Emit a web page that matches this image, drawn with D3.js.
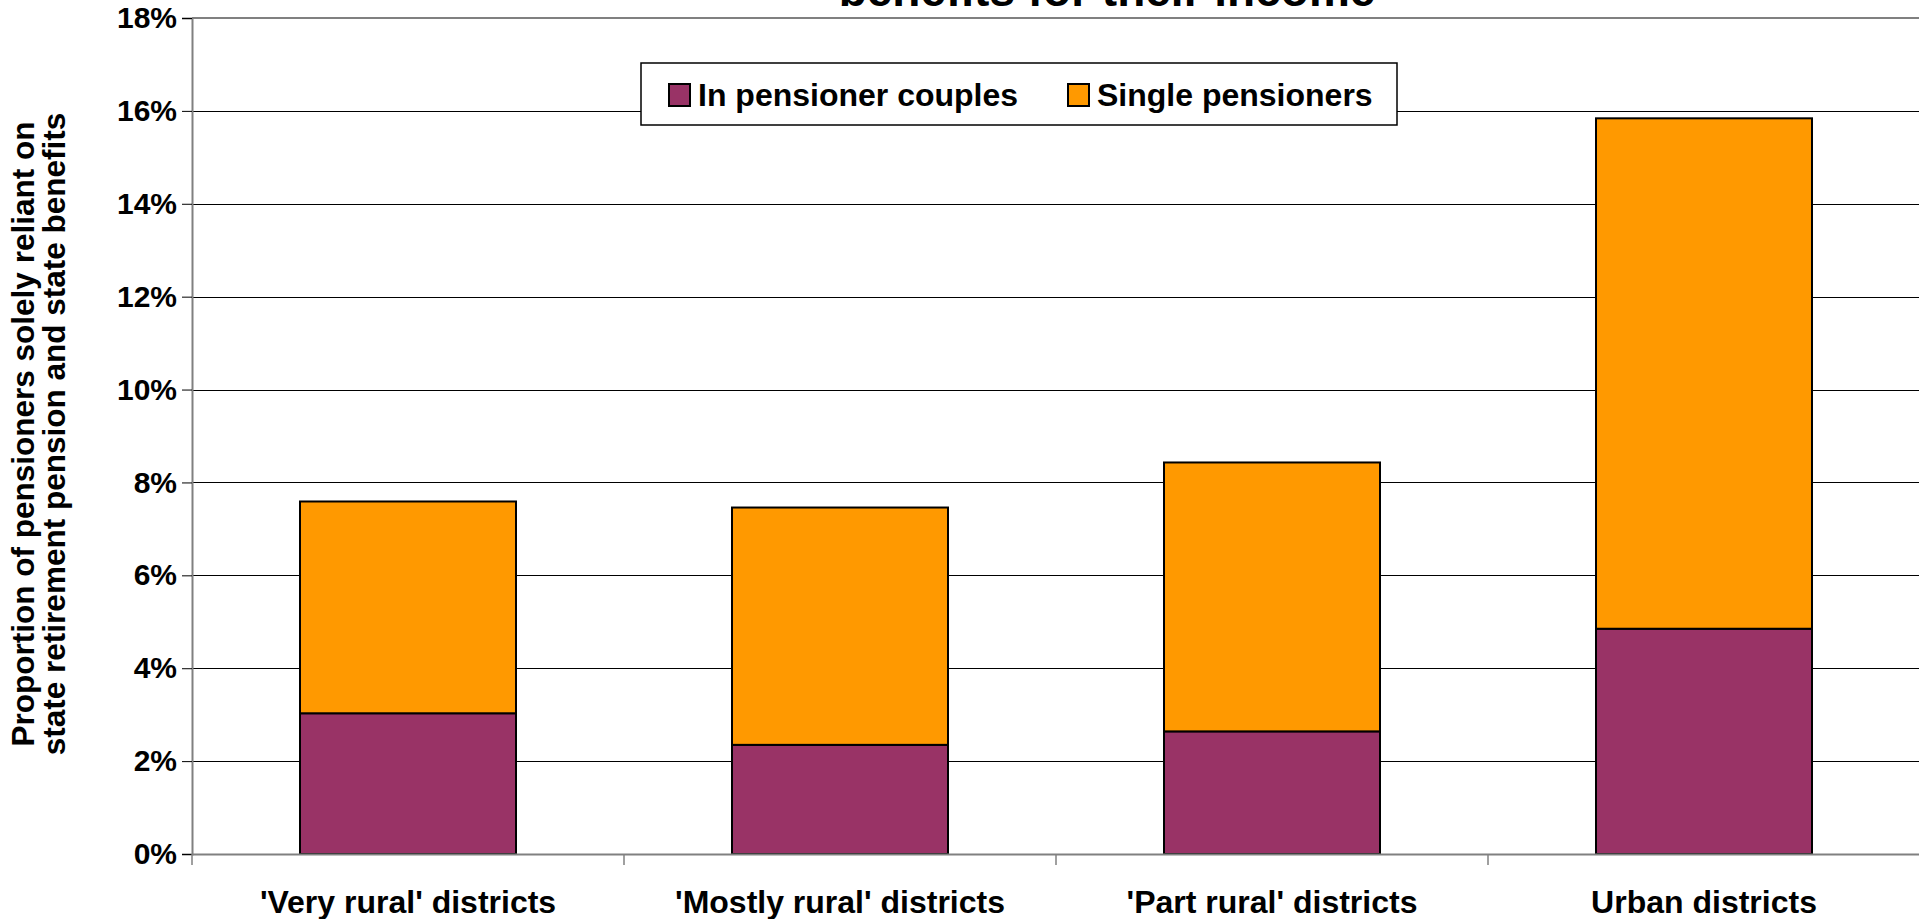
<!DOCTYPE html>
<html>
<head>
<meta charset="utf-8">
<script src="https://cdn.jsdelivr.net/npm/d3@7"></script>
<style>
  html, body { margin: 0; padding: 0; background: #fff; overflow: hidden; }
  text { font-family: Arial, "Liberation Sans", sans-serif; font-weight: bold; fill: #000; }
</style>
</head>
<body>
<div id="chart"></div>
<script>
// data (percent)
var categories = ["'Very rural' districts", "'Mostly rural' districts", "'Part rural' districts", "Urban districts"];
var couples = [3.03, 2.35, 2.64, 4.85];
var singles = [4.56, 5.11, 5.79, 10.99];
var seriesNames = ["In pensioner couples", "Single pensioners"];
var seriesColors = ["#993366", "#FF9900"];
var yTicks = [0, 2, 4, 6, 8, 10, 12, 14, 16, 18];

(function () {
  var width = 1919, height = 919;
  var plot = { left: 192, right: 1920, top: 18, bottom: 854 };
  var fontFamily = 'Arial, "Liberation Sans", sans-serif';

  var svg = d3.select('#chart').append('svg')
    .attr('width', width).attr('height', height);

  var x = d3.scaleBand().domain(categories).range([plot.left, plot.right])
    .paddingInner(0.5).paddingOuter(0.25);
  var y = d3.scaleLinear().domain([0, 18]).range([plot.bottom, plot.top]);

  // gridlines
  svg.append('g').selectAll('line')
    .data(yTicks.filter(d => d > 0 && d < 18))
    .enter().append('line')
    .attr('x1', plot.left).attr('x2', plot.right)
    .attr('y1', d => Math.round(y(d)) + 0.5).attr('y2', d => Math.round(y(d)) + 0.5)
    .attr('stroke', '#000').attr('stroke-width', 1);

  // top border of plot
  svg.append('line')
    .attr('x1', plot.left).attr('x2', plot.right)
    .attr('y1', y(18)).attr('y2', y(18))
    .attr('stroke', '#808080').attr('stroke-width', 2);

  // stacked bars
  var rows = categories.map((c, i) => ({ cat: c, couples: couples[i], singles: singles[i] }));
  var stacked = d3.stack().keys(['couples', 'singles'])(rows);

  svg.append('g').selectAll('g')
    .data(stacked)
    .enter().append('g')
    .attr('fill', (d, i) => seriesColors[i])
    .selectAll('rect')
    .data(d => d)
    .enter().append('rect')
    .attr('x', d => x(d.data.cat))
    .attr('width', x.bandwidth())
    .attr('y', d => y(d[1]))
    .attr('height', d => y(d[0]) - y(d[1]))
    .attr('stroke', '#000').attr('stroke-width', 2);

  // y axis
  var yAxis = d3.axisLeft(y).tickValues(yTicks).tickSize(10).tickPadding(5)
    .tickFormat(d => d + '%');
  var gy = svg.append('g').attr('transform', 'translate(' + plot.left + ',0)').call(yAxis);
  gy.select('.domain').attr('stroke', '#808080').attr('stroke-width', 2);
  gy.selectAll('.tick line').attr('stroke', '#000');
  gy.selectAll('.tick text')
    .style('font-size', '30px').style('font-family', fontFamily).style('font-weight', 'bold');

  // x axis
  var xAxis = d3.axisBottom(x).tickSize(0).tickPadding(36);
  var gx = svg.append('g').attr('transform', 'translate(0,' + plot.bottom + ')').call(xAxis);
  gx.select('.domain').attr('stroke', '#808080').attr('stroke-width', 2);
  gx.selectAll('.tick text')
    .style('font-size', '32px').style('font-family', fontFamily).style('font-weight', 'bold');

  // category separators
  var step = x.step();
  svg.append('g').selectAll('line')
    .data(d3.range(categories.length + 1))
    .enter().append('line')
    .attr('x1', i => plot.left + i * step).attr('x2', i => plot.left + i * step)
    .attr('y1', plot.bottom).attr('y2', plot.bottom + 11)
    .attr('stroke', '#808080').attr('stroke-width', 1.5);

  // y axis title
  var yTitle = svg.append('text')
    .attr('transform', 'translate(0,434) rotate(-90)')
    .attr('text-anchor', 'middle')
    .style('font-size', '31.5px');
  yTitle.append('tspan').attr('x', 0).attr('y', 34).text('Proportion of pensioners solely reliant on');
  yTitle.append('tspan').attr('x', 0).attr('y', 65).text('state retirement pension and state benefits');

  // chart title (mostly cut off at top)
  svg.append('text')
    .attr('x', 1107).attr('y', 6)
    .attr('text-anchor', 'middle')
    .style('font-size', '46px')
    .text('benefits for their income');

  // legend
  var legend = svg.append('g');
  legend.append('rect')
    .attr('x', 641).attr('y', 63).attr('width', 756).attr('height', 62)
    .attr('fill', '#fff').attr('stroke', '#000').attr('stroke-width', 1.5);
  var legendX = [669, 1068];
  var items = legend.selectAll('g.item')
    .data(seriesNames)
    .enter().append('g').attr('class', 'item')
    .attr('transform', (d, i) => 'translate(' + legendX[i] + ',0)');
  items.append('rect')
    .attr('x', 0).attr('y', 84).attr('width', 21).attr('height', 22)
    .attr('fill', (d, i) => seriesColors[i])
    .attr('stroke', '#000').attr('stroke-width', 2);
  items.append('text')
    .attr('x', 29).attr('y', 106)
    .style('font-size', '32px')
    .text(d => d);
})();
</script>
</body>
</html>
